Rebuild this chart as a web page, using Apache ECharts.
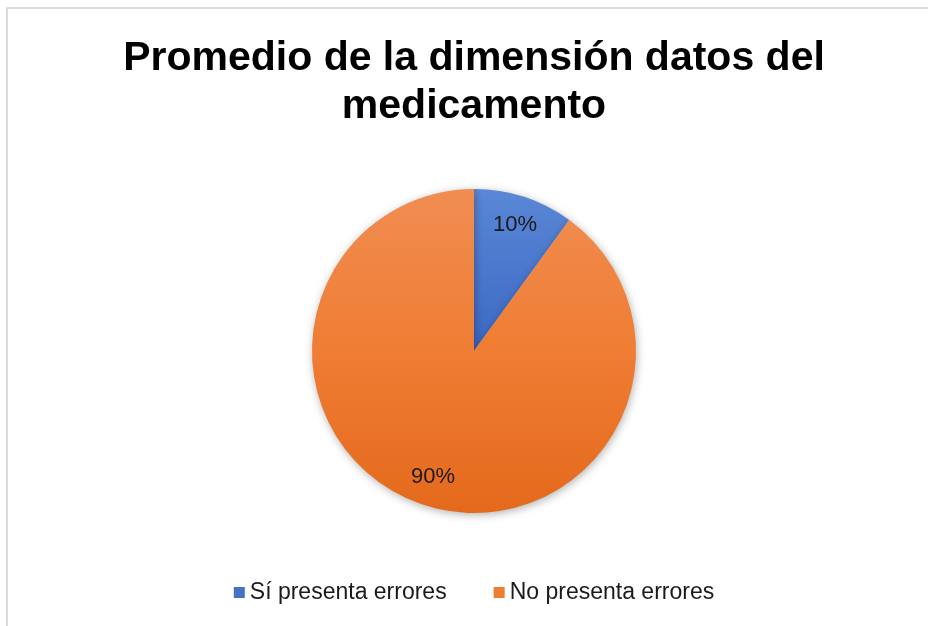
<!DOCTYPE html>
<html>
<head>
<meta charset="utf-8">
<script src="https://cdn.jsdelivr.net/npm/echarts@6/dist/echarts.min.js"></script>
<style>
  html, body { margin: 0; padding: 0; background: #fff; overflow: hidden; }
  #chart { position: absolute; left: 0; top: 0; width: 948px; height: 626px; }
</style>
</head>
<body>
<div id="chart"></div>
<script>
// datos
var titleText = "Promedio de la dimensión datos del\nmedicamento";
var categories = ["Sí presenta errores", "No presenta errores"];
var values = [10, 90];
var baseColors = ["#4472C4", "#ED7D31"];

// degradados (arriba claro, abajo oscuro)
var gradStops = [
  ["#5b87d6", "#3b68c4", "#2a55b0"],
  ["#f18d52", "#ef7d33", "#e4691c"]
];

var cx = 474, cy = 351, r = 162;

function grad(stops) {
  return new echarts.graphic.LinearGradient(0, cy - r, 0, cy + r, [
    { offset: 0, color: stops[0] },
    { offset: 0.5, color: stops[1] },
    { offset: 1, color: stops[2] }
  ], true);
}

var pieData = categories.map(function (name, i) {
  return { name: name, value: values[i], itemStyle: { color: grad(gradStops[i]) } };
});

var legendData = categories.map(function (name, i) {
  return { name: name, itemStyle: { color: baseColors[i] } };
});

var myChart = echarts.init(document.getElementById("chart"));
myChart.setOption({
  animation: false,
  title: {
    text: titleText,
    left: "center",
    top: 30,
    textStyle: {
      fontFamily: "Liberation Sans",
      fontWeight: "bold",
      fontSize: 41,
      lineHeight: 48,
      color: "#000"
    }
  },
  legend: {
    data: legendData,
    top: 576,
    left: "center",
    icon: "rect",
    itemWidth: 11,
    itemHeight: 11,
    itemGap: 47,
    textStyle: {
      fontFamily: "Liberation Sans",
      fontSize: 23,
      color: "#1a1a1a"
    }
  },
  graphic: [{
    type: "rect",
    shape: { x: 7, y: 8, width: 1000, height: 700 },
    style: { fill: "none", stroke: "#dcdcdc", lineWidth: 2 },
    silent: true,
    z: -1
  }],
  series: [{
    type: "pie",
    center: [cx, cy],
    radius: [0, r],
    startAngle: 90,
    clockwise: true,
    data: pieData,
    itemStyle: {
      borderWidth: 0,
      shadowBlur: 8,
      shadowColor: "rgba(0,0,0,0.3)",
      shadowOffsetX: 1,
      shadowOffsetY: 2
    },
    label: {
      show: true,
      position: "inside",
      formatter: "{d}%",
      fontFamily: "Liberation Sans",
      fontSize: 22,
      color: "#1a1a1a"
    },
    labelLine: { show: false },
    labelLayout: function (params) {
      // mover la etiqueta hacia afuera, a ~0.8 del radio
      var lr = params.labelRect;
      var lx = lr.x + lr.width / 2;
      var ly = lr.y + lr.height / 2;
      return { dx: (lx - cx) * 0.58, dy: (ly - cy) * 0.58 };
    },
    emphasis: { disabled: true }
  }]
});
</script>
</body>
</html>
